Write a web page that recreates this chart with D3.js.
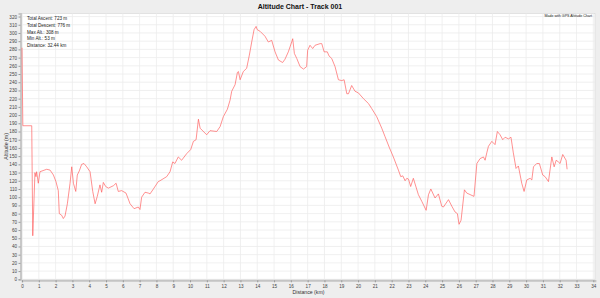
<!DOCTYPE html>
<html>
<head>
<meta charset="utf-8">
<script src="https://cdn.jsdelivr.net/npm/d3@7"></script>
<style>
  body { margin: 0; background: #eeeeee; }
  svg { display: block; font-family: "Liberation Sans", Arial, sans-serif; }
</style>
</head>
<body>
<div id="chart"></div>
<script>
// distance along the track (km)
var distanceKm = [
  0, 0.05, 0.58, 0.64, 0.77, 0.83, 0.87, 0.97, 1.07, 1.47,
  1.67, 1.87, 2.02, 2.16, 2.22, 2.36, 2.46, 2.56, 2.7, 2.86,
  2.96, 3.06, 3.2, 3.29, 3.41, 3.55, 3.69, 3.85, 4.05, 4.21,
  4.35, 4.48, 4.64, 4.74, 4.84, 4.98, 5.14, 5.44, 5.6, 5.73,
  5.93, 6.19, 6.43, 6.67, 6.92, 7.02, 7.12, 7.32, 7.52, 7.62,
  7.82, 8.11, 8.21, 8.61, 8.81, 8.97, 9.1, 9.3, 9.5, 9.8,
  10.04, 10.2, 10.36, 10.5, 10.6, 10.99, 11.19, 11.59, 11.79, 11.98,
  12.22, 12.38, 12.48, 12.68, 12.82, 12.88, 12.98, 13.17, 13.37, 13.53,
  13.67, 13.81, 13.93, 14.0, 14.17, 14.46, 14.66, 14.86, 15.06, 15.26,
  15.51, 15.65, 15.85, 16.05, 16.11, 16.21, 16.35, 16.55, 16.75, 16.94,
  17.0, 17.14, 17.3, 17.44, 17.74, 17.84, 17.98, 18.17, 18.27, 18.43,
  18.63, 18.83, 19.03, 19.17, 19.33, 19.43, 19.62, 19.82, 20.02, 20.32,
  20.62, 20.81, 21.11, 21.41, 21.6, 21.87, 22.1, 22.4, 22.54, 22.66,
  22.8, 22.9, 23.0, 23.13, 23.29, 23.59, 23.79, 24.05, 24.19, 24.33,
  24.58, 24.78, 24.98, 25.08, 25.38, 25.58, 25.77, 25.91, 26.01, 26.13,
  26.33, 26.47, 26.9, 27.07, 27.26, 27.46, 27.56, 27.66, 27.76, 27.96,
  28.15, 28.29, 28.45, 28.61, 28.75, 28.95, 29.1, 29.24, 29.4, 29.54,
  29.74, 29.88, 30.04, 30.24, 30.34, 30.44, 30.63, 30.79, 30.99, 31.13,
  31.33, 31.53, 31.67, 31.79, 31.92, 32.02, 32.18, 32.38, 32.44
];

// altitude (m)
var altitudeM = [
  282, 187, 187, 53, 130, 125, 131, 117, 131, 134,
  133, 127, 119, 108, 80, 78, 74, 77, 92, 117,
  137, 117, 107, 127, 132, 140, 141, 137, 131, 107,
  92, 101, 115, 106, 118, 113, 111, 114, 117, 107,
  108, 105, 92, 86, 88, 85, 100, 106, 105, 104,
  110, 119, 120, 125, 131, 143, 141, 149, 145, 153,
  158, 168, 170, 195, 184, 176, 181, 180, 186, 198,
  207, 218, 229, 237, 252, 253, 243, 253, 257, 273,
  289, 304, 308, 304, 302, 296, 289, 291, 277, 267,
  264, 268, 277, 289, 293, 275, 269, 259, 256, 259,
  279, 285, 281, 285, 287, 287, 277, 277, 272, 269,
  259, 243, 242, 243, 226, 226, 236, 229, 227, 220,
  214, 208, 198, 184, 174, 160, 149, 133, 125, 126,
  120, 123, 122, 113, 123, 103, 95, 84, 103, 110,
  99, 104, 89, 88, 97, 89, 82, 80, 67, 72,
  109, 105, 101, 141, 147, 149, 145, 154, 162, 168,
  164, 180, 176, 170, 173, 171, 173, 154, 135, 138,
  117, 107, 121, 123, 121, 137, 141, 141, 127, 125,
  119, 149, 137, 145, 143, 141, 152, 145, 134
];

var xTicks = d3.range(0, 35, 1);
var yTicks = d3.range(0, 330, 10);

var statLines = [
  "Total Ascent: 723 m",
  "Total Descent: 776 m",
  "Max Alt.: 308 m",
  "Min Alt.: 53 m",
  "Distance: 32.44 km"
];

var width = 600, height = 298;
var plot = { left: 22, right: 595, top: 13.5, bottom: 279.3 };

var svg = d3.select("#chart").append("svg")
  .attr("width", width)
  .attr("height", height);

var x = d3.scaleLinear().domain([0, 34.1]).range([plot.left, plot.right]);
var y = d3.scaleLinear().domain([0, 323.7]).range([plot.bottom, plot.top]);

// title
svg.append("text")
  .attr("x", width / 2)
  .attr("y", 8.5)
  .attr("text-anchor", "middle")
  .style("font-size", "7px")
  .style("font-weight", "bold")
  .attr("fill", "#111")
  .text("Altitude Chart - Track 001");

// plot background
svg.append("rect")
  .attr("x", plot.left)
  .attr("y", plot.top)
  .attr("width", plot.right - plot.left)
  .attr("height", plot.bottom - plot.top)
  .attr("fill", "#ffffff")
  .attr("stroke", "#dcdcdc")
  .attr("stroke-width", 0.8);

// grid
var grid = svg.append("g");
grid.selectAll("line.v").data(xTicks.slice(1)).enter().append("line")
  .attr("x1", function(d) { return x(d); })
  .attr("x2", function(d) { return x(d); })
  .attr("y1", plot.top)
  .attr("y2", plot.bottom)
  .attr("stroke", "#ececec")
  .attr("stroke-width", 0.8);
grid.selectAll("line.h").data(yTicks.slice(1)).enter().append("line")
  .attr("x1", plot.left)
  .attr("x2", plot.right)
  .attr("y1", function(d) { return y(d); })
  .attr("y2", function(d) { return y(d); })
  .attr("stroke", "#ececec")
  .attr("stroke-width", 0.8);

// axes
var xAxis = svg.append("g")
  .attr("transform", "translate(0," + (plot.bottom + 1) + ")")
  .call(d3.axisBottom(x).tickValues(xTicks).tickSize(2).tickPadding(2).tickFormat(d3.format("d")));
var yAxis = svg.append("g")
  .attr("transform", "translate(" + (plot.left - 1.5) + ",0)")
  .call(d3.axisLeft(y).tickValues(yTicks).tickSize(2).tickPadding(1.5).tickFormat(d3.format("d")));

[xAxis, yAxis].forEach(function(a) {
  a.select(".domain").attr("stroke", "#c4c4c4").attr("stroke-width", 1.8);
  a.selectAll(".tick line").attr("stroke", "#999");
  a.selectAll(".tick text")
    .attr("fill", "#444")
    .style("font-size", "4.6px")
    .style("font-family", "\"Liberation Sans\", Arial, sans-serif");
});

// axis titles
svg.append("text")
  .attr("x", (plot.left + plot.right) / 2)
  .attr("y", 294)
  .attr("text-anchor", "middle")
  .style("font-size", "5.2px")
  .attr("fill", "#333")
  .text("Distance (km)");

svg.append("text")
  .attr("transform", "translate(8," + ((plot.top + plot.bottom) / 2) + ") rotate(-90)")
  .attr("text-anchor", "middle")
  .style("font-size", "5.2px")
  .attr("fill", "#333")
  .text("Altitude (m)");

// altitude profile
var points = distanceKm.map(function(d, i) { return [d, altitudeM[i]]; });
var line = d3.line()
  .x(function(p) { return x(p[0]); })
  .y(function(p) { return y(p[1]); });

svg.append("path")
  .datum(points)
  .attr("d", line)
  .attr("fill", "none")
  .attr("stroke", "#ff5c5c")
  .attr("stroke-opacity", 0.8)
  .attr("stroke-width", 0.85)
  .attr("stroke-linejoin", "round");

// stats box
svg.append("g").selectAll("text").data(statLines).enter().append("text")
  .attr("x", 27)
  .attr("y", function(d, i) { return 20 + i * 6.8; })
  .style("font-size", "4.6px")
  .attr("fill", "#222")
  .text(function(d) { return d; });

svg.append("text")
  .attr("x", plot.right - 3)
  .attr("y", 17)
  .attr("text-anchor", "end")
  .style("font-size", "3.6px")
  .attr("fill", "#222")
  .text("Made with GPS Altitude Chart");
</script>
</body>
</html>
